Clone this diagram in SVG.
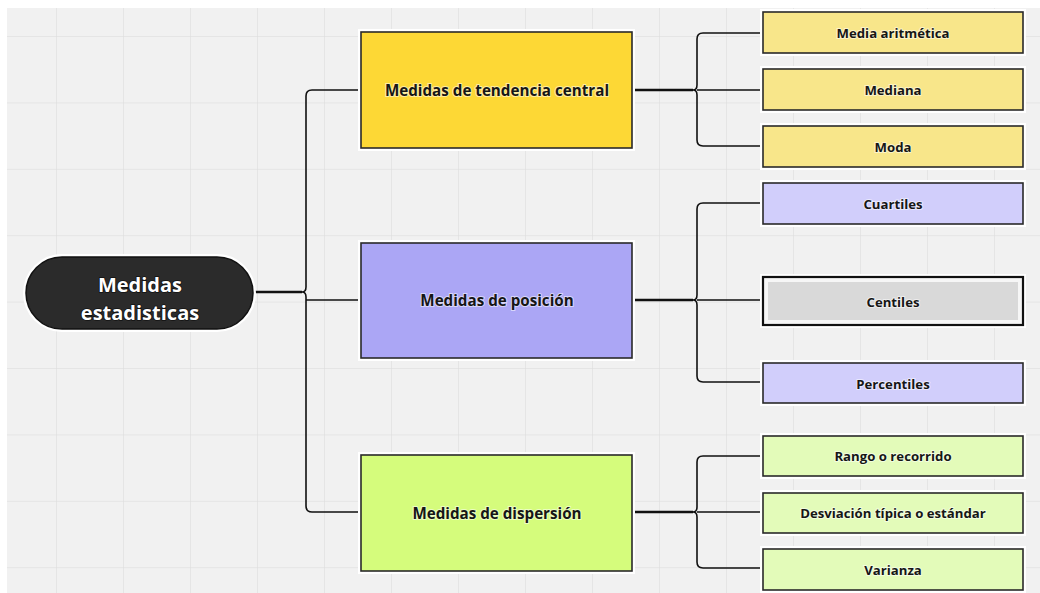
<svg xmlns="http://www.w3.org/2000/svg" width="1040" height="593" viewBox="0 0 1040 593">
  <defs>
    <pattern id="grid" x="56" y="36" width="67" height="66.4" patternUnits="userSpaceOnUse">
      <path d="M0 0 V66.4 M0 0 H67" fill="none" stroke="#dadada" stroke-width="1"/>
    </pattern>
    <style>
      .lbl { font-family: "Open Sans", "Liberation Sans", sans-serif; font-weight: 700; fill: #161616; text-anchor: middle; dominant-baseline: central; paint-order: stroke; stroke: #ffffff; stroke-opacity: 0.55; stroke-width: 2px; }
      .main { font-size: 15.2px; }
      .leaf { font-size: 13.2px; }
      .root { font-family: "Open Sans", "Liberation Sans", sans-serif; font-weight: 700; font-size: 20px; fill: #ffffff; text-anchor: middle; paint-order: stroke; stroke: #111111; stroke-width: 1.5px; }
      .halo { fill: none; stroke: #ffffff; stroke-width: 6; }
      .box { stroke: #2a2a2a; stroke-width: 1.6; }
      .wire { fill: none; stroke: #111111; stroke-width: 1.6; stroke-linejoin: round; }
      .feed { fill: none; stroke: #111111; stroke-width: 2.4; }
    </style>
  </defs>

  <!-- canvas -->
  <rect width="1040" height="593" fill="#ffffff"/>
  <rect x="7" y="8" width="1033" height="585" fill="#f1f1f1"/>
  <rect x="7" y="8" width="1033" height="585" fill="url(#grid)"/>

  <!-- connectors -->
  <g id="connectors">
    <!-- root to first level -->
    <path class="feed" d="M253 292 H302"/>
    <path class="wire" d="M361 90 H312 Q306 90 306 96 V287 Q306 292 302 292 Q306 292 306 297 V506 Q306 512 312 512 H361"/>
    <path class="wire" d="M306 300 H361"/>
    <!-- central tendency leaves -->
    <path class="feed" d="M632 90 H693"/>
    <path class="wire" d="M763 33 H703 Q697 33 697 39 V85 Q697 90 693 90 Q697 90 697 95 V140 Q697 146 703 146 H763 M697 90 H763"/>
    <!-- position leaves -->
    <path class="feed" d="M632 300 H693"/>
    <path class="wire" d="M763 203 H703 Q697 203 697 209 V295 Q697 300 693 300 Q697 300 697 305 V376 Q697 382 703 382 H763 M697 300 H763"/>
    <!-- dispersion leaves -->
    <path class="feed" d="M632 512 H693"/>
    <path class="wire" d="M763 456 H703 Q697 456 697 462 V507 Q697 512 693 512 Q697 512 697 517 V562 Q697 568 703 568 H763 M697 512 H763"/>
  </g>

  <!-- root -->
  <g id="node-root">
    <rect class="halo" x="26" y="257" width="227" height="72" rx="36"/>
    <rect x="26" y="257" width="227" height="72" rx="36" fill="#2b2b2b" stroke="#111111" stroke-width="1.5"/>
    <text class="root" x="140" y="292">Medidas</text>
    <text class="root" x="140" y="320">estadisticas</text>
  </g>

  <!-- first level -->
  <g id="node-tendencia">
    <rect class="halo" x="361" y="32" width="271" height="116"/>
    <rect class="box" x="361" y="32" width="271" height="116" fill="#fdd835"/>
    <text class="lbl main" x="497" y="90">Medidas de tendencia central</text>
  </g>
  <g id="node-posicion">
    <rect class="halo" x="361" y="243" width="271" height="115"/>
    <rect class="box" x="361" y="243" width="271" height="115" fill="#aba6f5"/>
    <text class="lbl main" x="497" y="300">Medidas de posición</text>
  </g>
  <g id="node-dispersion">
    <rect class="halo" x="361" y="455" width="271" height="116"/>
    <rect class="box" x="361" y="455" width="271" height="116" fill="#d5fc7c"/>
    <text class="lbl main" x="497" y="513">Medidas de dispersión</text>
  </g>

  <!-- central tendency leaves -->
  <g id="node-media">
    <rect class="halo" x="763" y="12" width="260" height="41"/>
    <rect class="box" x="763" y="12" width="260" height="41" fill="#f8e68a"/>
    <text class="lbl leaf" x="893" y="33">Media aritmética</text>
  </g>
  <g id="node-mediana">
    <rect class="halo" x="763" y="69" width="260" height="41"/>
    <rect class="box" x="763" y="69" width="260" height="41" fill="#f8e68a"/>
    <text class="lbl leaf" x="893" y="90">Mediana</text>
  </g>
  <g id="node-moda">
    <rect class="halo" x="763" y="126" width="260" height="41"/>
    <rect class="box" x="763" y="126" width="260" height="41" fill="#f8e68a"/>
    <text class="lbl leaf" x="893" y="147">Moda</text>
  </g>

  <!-- position leaves -->
  <g id="node-cuartiles">
    <rect class="halo" x="763" y="183" width="260" height="41"/>
    <rect class="box" x="763" y="183" width="260" height="41" fill="#d1cefb"/>
    <text class="lbl leaf" x="893" y="204">Cuartiles</text>
  </g>
  <g id="node-centiles">
    <rect class="halo" x="763" y="277" width="260" height="48"/>
    <rect x="763" y="277" width="260" height="48" fill="#f6f6f6" stroke="#111111" stroke-width="2.2"/>
    <rect x="768" y="282" width="250" height="38" fill="#d9d9d9"/>
    <text class="lbl leaf" x="893" y="302">Centiles</text>
  </g>
  <g id="node-percentiles">
    <rect class="halo" x="763" y="363" width="260" height="40"/>
    <rect class="box" x="763" y="363" width="260" height="40" fill="#d1cefb"/>
    <text class="lbl leaf" x="893" y="384">Percentiles</text>
  </g>

  <!-- dispersion leaves -->
  <g id="node-rango">
    <rect class="halo" x="763" y="436" width="260" height="40"/>
    <rect class="box" x="763" y="436" width="260" height="40" fill="#e3fbb9"/>
    <text class="lbl leaf" x="893" y="456">Rango o recorrido</text>
  </g>
  <g id="node-desviacion">
    <rect class="halo" x="763" y="493" width="260" height="40"/>
    <rect class="box" x="763" y="493" width="260" height="40" fill="#e3fbb9"/>
    <text class="lbl leaf" x="893" y="513">Desviación típica o estándar</text>
  </g>
  <g id="node-varianza">
    <rect class="halo" x="763" y="549" width="260" height="41"/>
    <rect class="box" x="763" y="549" width="260" height="41" fill="#e3fbb9"/>
    <text class="lbl leaf" x="893" y="570">Varianza</text>
  </g>
</svg>
